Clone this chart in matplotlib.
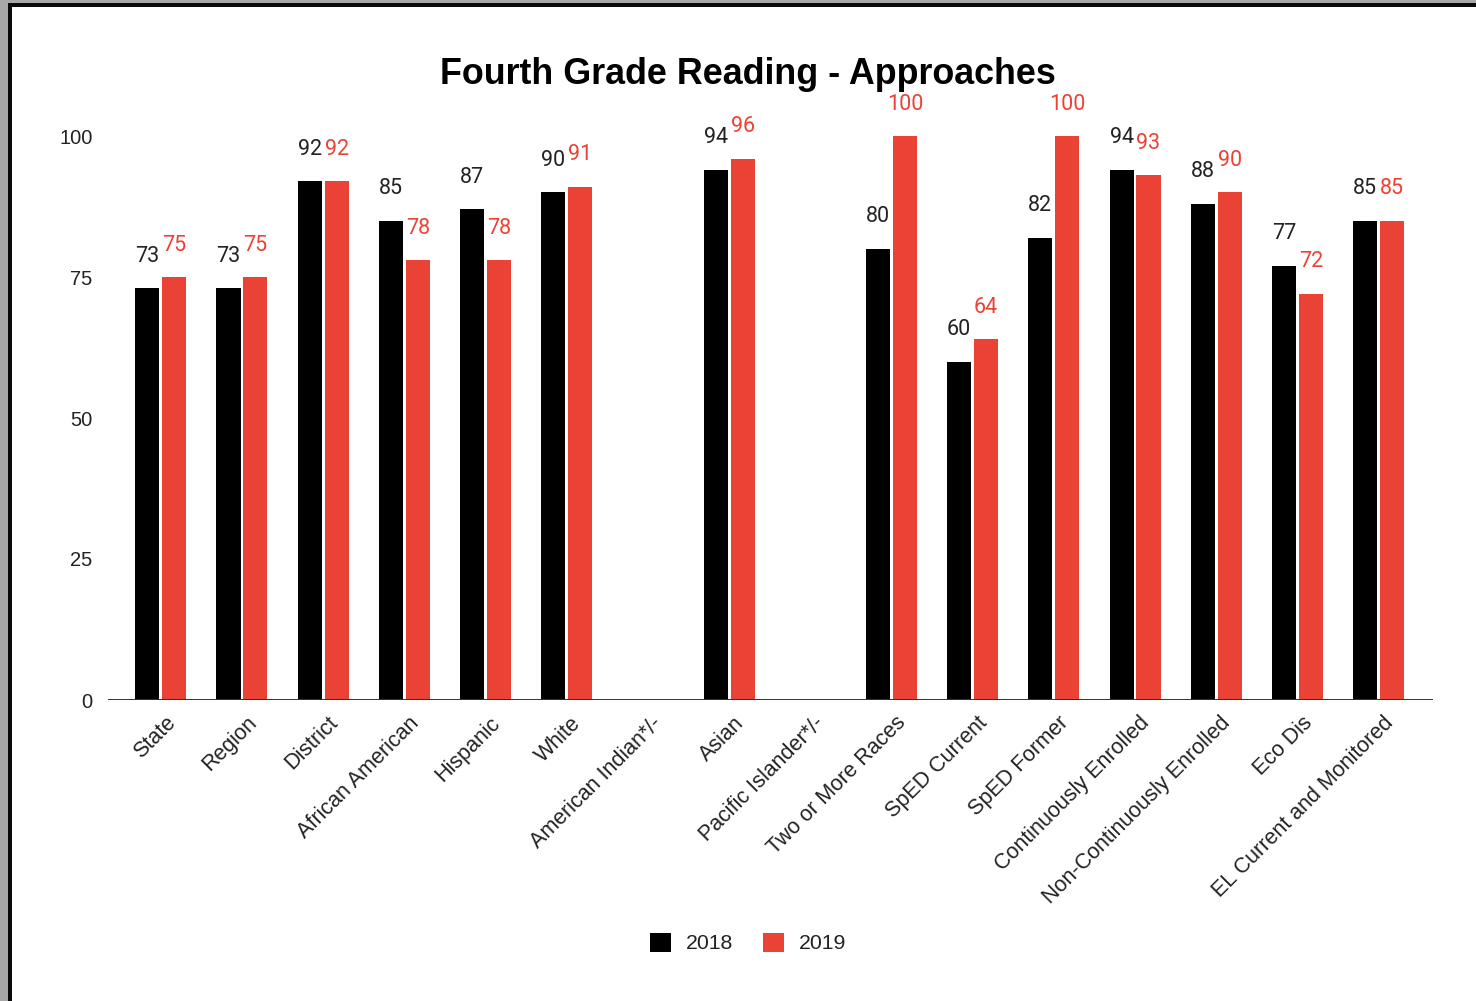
import numpy as np
import matplotlib.pyplot as plt
from matplotlib.patches import Patch, Rectangle

# данные: категории и значения за два года (None — нет данных)
categories = ['State', 'Region', 'District', 'African American', 'Hispanic', 'White',
              'American Indian*/-', 'Asian', 'Pacific Islander*/-', 'Two or More Races',
              'SpED Current', 'SpED Former', 'Continuously Enrolled',
              'Non-Continuously Enrolled', 'Eco Dis', 'EL Current and Monitored']
values_2018 = [73, 73, 92, 85, 87, 90, None, 94, None, 80, 60, 82, 94, 88, 77, 85]
values_2019 = [75, 75, 92, 78, 78, 91, None, 96, None, 100, 64, 100, 93, 90, 72, 85]
y_ticks = [0, 25, 50, 75, 100]

black = '#000000'
red = '#EA4335'
text_gray = '#222222'

plt.rcParams['font.family'] = ['Liberation Sans', 'DejaVu Sans']

fig = plt.figure(figsize=(14.76, 10.01), dpi=100)
W, H = 1476, 1001
ax = fig.add_axes([108 / W, 301 / H, (1433 - 108) / W, 564 / H])

x = np.arange(len(categories))
width = 0.296
offset = 0.166

# столбцы и подписи значений
for vals, shift, color, lab_color in [(values_2018, -offset, black, text_gray),
                                      (values_2019, offset, red, red)]:
    xs = [xi + shift for xi, v in zip(x, vals) if v is not None]
    ys = [v for v in vals if v is not None]
    ax.bar(xs, ys, width=width, color=color, zorder=2)
    for xi, v in zip(xs, ys):
        ax.annotate(str(v), (xi, v), xytext=(0, 23), textcoords='offset points',
                    ha='center', va='center', fontsize=15.5, color=lab_color,
                    family=['Roboto', 'DejaVu Sans'])

ax.set_xlim(-0.65, 15.67)
ax.set_ylim(0, 100)
ax.axhline(0, color='#333333', lw=1.4, zorder=3)

for s in ax.spines.values():
    s.set_visible(False)

ax.set_yticks(y_ticks)
ax.set_yticklabels([str(t) for t in y_ticks], fontsize=14.5, color=text_gray)
ax.tick_params(axis='y', length=0, pad=11)

ax.set_xticks(x + 0.05)
ax.set_xticklabels(categories, rotation=45, ha='right', rotation_mode='anchor',
                   fontsize=15.5, color=text_gray)
ax.tick_params(axis='x', length=0, pad=9)

fig.text(748 / W, 1 - 75 / H, 'Fourth Grade Reading - Approaches',
         ha='center', va='center', fontsize=25.8, fontweight='bold', color=black)

handles = [Patch(facecolor=black, label='2018'), Patch(facecolor=red, label='2019')]
fig.legend(handles=handles, loc='center', bbox_to_anchor=(748 / W, 1 - 943 / H),
           ncol=2, frameon=False, fontsize=15.3, handlelength=1.0, handleheight=1.0,
           handletextpad=0.7, columnspacing=1.4, labelcolor=text_gray)

# рамка по левому и верхнему краю
fig.patches.append(Rectangle((0, 0), 8 / W, 1, transform=fig.transFigure,
                             facecolor='#a8a8a8', edgecolor='none'))
fig.patches.append(Rectangle((8 / W, 0), 4 / W, 1, transform=fig.transFigure,
                             facecolor='#0a0a0a', edgecolor='none'))
fig.patches.append(Rectangle((0, 1 - 3 / H), 1, 3 / H, transform=fig.transFigure,
                             facecolor='#a8a8a8', edgecolor='none'))
fig.patches.append(Rectangle((8 / W, 1 - 7 / H), 1, 4 / H, transform=fig.transFigure,
                             facecolor='#0a0a0a', edgecolor='none'))

fig.savefig('out.png', dpi=100)
